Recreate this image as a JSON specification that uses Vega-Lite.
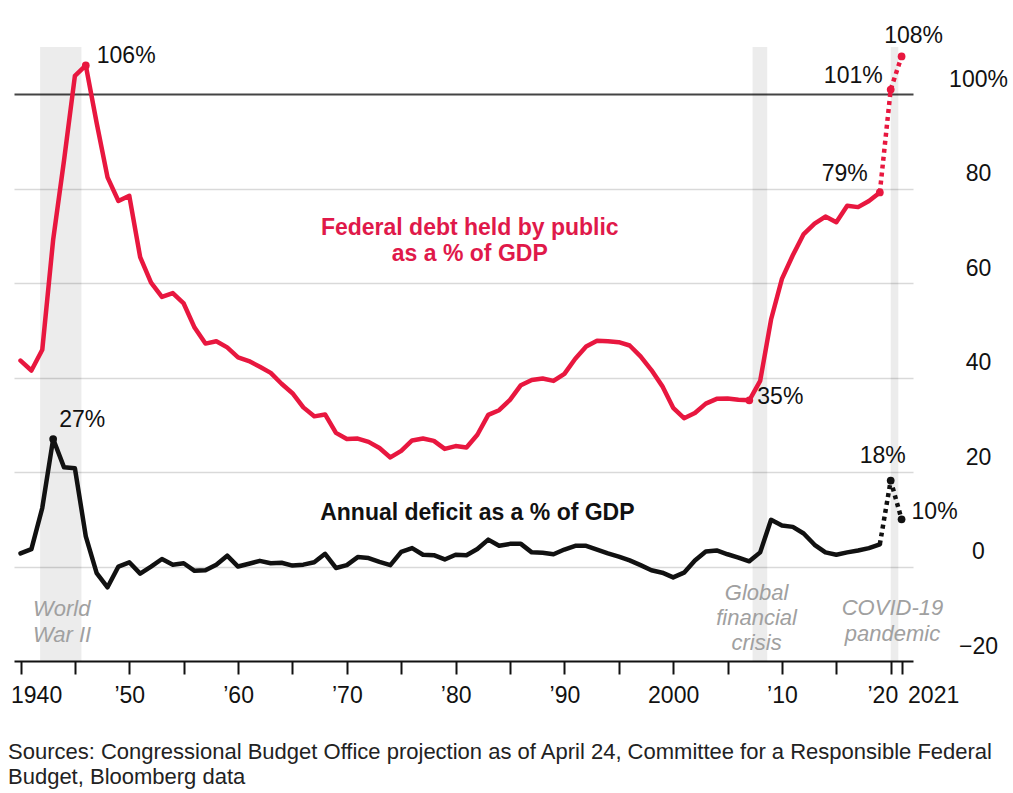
{
  "$schema": "https://vega.github.io/schema/vega-lite/v6.json",
  "width": 899,
  "height": 614,
  "autosize": {"type": "none"},
  "padding": {"left": 14, "top": 47, "right": 100, "bottom": 132},
  "background": "white",
  "config": {"view": {"stroke": null}, "font": "Liberation Sans"},
  "title": {
    "text": ["Sources: Congressional Budget Office projection as of April 24, Committee for a Responsible Federal", "Budget, Bloomberg data"],
    "orient": "bottom", "anchor": "start", "frame": "group",
    "font": "Liberation Sans", "fontSize": 22, "fontWeight": "normal", "color": "#222",
    "lineHeight": 25, "offset": 35, "dx": -6
  },
  "datasets": {
    "series": [
      {"year": 1940, "debt": 43.6, "deficit": 2.8},
      {"year": 1941, "debt": 41.5, "deficit": 3.7},
      {"year": 1942, "debt": 45.9, "deficit": 12.4},
      {"year": 1943, "debt": 69.2, "deficit": 27.0},
      {"year": 1944, "debt": 86.0, "deficit": 21.0},
      {"year": 1945, "debt": 103.9, "deficit": 20.8},
      {"year": 1946, "debt": 106.1, "deficit": 6.4},
      {"year": 1947, "debt": 93.9, "deficit": -1.4},
      {"year": 1948, "debt": 82.4, "deficit": -4.4},
      {"year": 1949, "debt": 77.4, "deficit": 0.0},
      {"year": 1950, "debt": 78.5, "deficit": 0.9},
      {"year": 1951, "debt": 65.5, "deficit": -1.5},
      {"year": 1952, "debt": 60.1, "deficit": 0.0},
      {"year": 1953, "debt": 57.1, "deficit": 1.6},
      {"year": 1954, "debt": 57.9, "deficit": 0.4},
      {"year": 1955, "debt": 55.7, "deficit": 0.7},
      {"year": 1956, "debt": 50.6, "deficit": -0.9},
      {"year": 1957, "debt": 47.2, "deficit": -0.8},
      {"year": 1958, "debt": 47.7, "deficit": 0.4},
      {"year": 1959, "debt": 46.4, "deficit": 2.3},
      {"year": 1960, "debt": 44.3, "deficit": 0.0},
      {"year": 1961, "debt": 43.5, "deficit": 0.6},
      {"year": 1962, "debt": 42.3, "deficit": 1.2},
      {"year": 1963, "debt": 41.0, "deficit": 0.7},
      {"year": 1964, "debt": 38.7, "deficit": 0.8},
      {"year": 1965, "debt": 36.7, "deficit": 0.2},
      {"year": 1966, "debt": 33.7, "deficit": 0.4},
      {"year": 1967, "debt": 31.8, "deficit": 0.9},
      {"year": 1968, "debt": 32.2, "deficit": 2.7},
      {"year": 1969, "debt": 28.3, "deficit": -0.3},
      {"year": 1970, "debt": 27.0, "deficit": 0.3},
      {"year": 1971, "debt": 27.1, "deficit": 2.0},
      {"year": 1972, "debt": 26.4, "deficit": 1.8},
      {"year": 1973, "debt": 25.1, "deficit": 1.0},
      {"year": 1974, "debt": 23.1, "deficit": 0.3},
      {"year": 1975, "debt": 24.5, "deficit": 3.1},
      {"year": 1976, "debt": 26.7, "deficit": 3.9},
      {"year": 1977, "debt": 27.1, "deficit": 2.5},
      {"year": 1978, "debt": 26.6, "deficit": 2.4},
      {"year": 1979, "debt": 24.9, "deficit": 1.5},
      {"year": 1980, "debt": 25.5, "deficit": 2.5},
      {"year": 1981, "debt": 25.2, "deficit": 2.4},
      {"year": 1982, "debt": 27.9, "deficit": 3.7},
      {"year": 1983, "debt": 32.1, "deficit": 5.7},
      {"year": 1984, "debt": 33.1, "deficit": 4.4},
      {"year": 1985, "debt": 35.3, "deficit": 4.8},
      {"year": 1986, "debt": 38.4, "deficit": 4.8},
      {"year": 1987, "debt": 39.5, "deficit": 3.0},
      {"year": 1988, "debt": 39.8, "deficit": 2.9},
      {"year": 1989, "debt": 39.3, "deficit": 2.6},
      {"year": 1990, "debt": 40.8, "deficit": 3.6},
      {"year": 1991, "debt": 44.0, "deficit": 4.4},
      {"year": 1992, "debt": 46.6, "deficit": 4.4},
      {"year": 1993, "debt": 47.8, "deficit": 3.6},
      {"year": 1994, "debt": 47.7, "deficit": 2.8},
      {"year": 1995, "debt": 47.5, "deficit": 2.1},
      {"year": 1996, "debt": 46.8, "deficit": 1.3},
      {"year": 1997, "debt": 44.5, "deficit": 0.3},
      {"year": 1998, "debt": 41.6, "deficit": -0.8},
      {"year": 1999, "debt": 38.2, "deficit": -1.3},
      {"year": 2000, "debt": 33.6, "deficit": -2.3},
      {"year": 2001, "debt": 31.4, "deficit": -1.3},
      {"year": 2002, "debt": 32.5, "deficit": 1.3},
      {"year": 2003, "debt": 34.5, "deficit": 3.2},
      {"year": 2004, "debt": 35.5, "deficit": 3.4},
      {"year": 2005, "debt": 35.6, "deficit": 2.6},
      {"year": 2006, "debt": 35.3, "deficit": 1.9},
      {"year": 2007, "debt": 35.2, "deficit": 1.1},
      {"year": 2008, "debt": 39.3, "deficit": 3.0},
      {"year": 2009, "debt": 52.3, "deficit": 9.9},
      {"year": 2010, "debt": 60.9, "deficit": 8.7},
      {"year": 2011, "debt": 65.9, "deficit": 8.4},
      {"year": 2012, "debt": 70.4, "deficit": 7.0},
      {"year": 2013, "debt": 72.6, "deficit": 4.6},
      {"year": 2014, "debt": 74.1, "deficit": 3.0},
      {"year": 2015, "debt": 72.9, "deficit": 2.5},
      {"year": 2016, "debt": 76.4, "deficit": 3.0},
      {"year": 2017, "debt": 76.1, "deficit": 3.4},
      {"year": 2018, "debt": 77.4, "deficit": 3.9},
      {"year": 2019, "debt": 79.2, "deficit": 4.7},
      {"year": 2020, "debt": 101.0, "deficit": 18.2},
      {"year": 2021, "debt": 108.0, "deficit": 10.0}
    ],
    "shades": [
      {"event": "World War II", "start": 1941.8, "end": 1945.6},
      {"event": "Global financial crisis", "start": 2007.3, "end": 2008.65},
      {"event": "COVID-19 pandemic", "start": 2020.0, "end": 2020.7}
    ]
  },
  "layer": [
    {
      "data": {"name": "shades"},
      "mark": {"type": "rect", "color": "#000", "opacity": 0.075},
      "encoding": {
        "x": {"field": "start", "type": "quantitative", "title": null},
        "x2": {"field": "end"}
      }
    },
    {
      "data": {"name": "series"},
      "transform": [{"filter": "datum.year <= 2019"}],
      "mark": {"type": "line", "color": "#e8173f", "strokeWidth": 4.5, "strokeJoin": "round", "strokeCap": "round"},
      "encoding": {
        "x": {
          "field": "year", "type": "quantitative", "title": null,
          "scale": {"domain": [1939.4, 2022.05], "nice": false, "zero": false},
          "axis": {
            "title": null,
            "values": [1940, 1945, 1950, 1955, 1960, 1965, 1970, 1975, 1980, 1985, 1990, 1995, 2000, 2005, 2010, 2015, 2020, 2021],
            "grid": false, "domain": true, "domainColor": "#111", "domainWidth": 2,
            "ticks": true, "tickColor": "#111", "tickWidth": 2, "tickSize": 13,
            "labelExpr": "(datum.value == 1940 || datum.value == 2000 || datum.value == 2021) ? ('' + datum.value) : (datum.value % 10 == 0 ? '\u2019' + substring('' + datum.value, 2, 4) : '')",
            "labelFont": "Liberation Sans", "labelFontSize": 23, "labelColor": "#111",
            "labelPadding": 10, "labelOverlap": false, "labelBound": false, "labelFlush": false,
            "labelBaseline": "top",
            "labelAlign": {"condition": [{"test": "datum.value == 1940 || datum.value == 2021", "value": "left"}, {"test": "datum.value == 2020", "value": "right"}], "value": "center"},
            "labelOffset": {"condition": [{"test": "datum.value == 1940", "value": -10}, {"test": "datum.value == 2021", "value": 6}, {"test": "datum.value == 2020", "value": 7}], "value": 0}
          }
        },
        "y": {
          "field": "debt", "type": "quantitative", "title": null,
          "scale": {"domain": [-20, 110], "nice": false, "zero": false},
          "axis": {
            "title": null, "orient": "right",
            "values": [-20, 0, 20, 40, 60, 80, 100],
            "domain": false, "ticks": false, "tickSize": 0,
            "grid": true,
            "gridColor": {"condition": [{"test": "datum.value == 100", "value": "#444"}, {"test": "datum.value == -20", "value": "transparent"}], "value": "#d9d9d9"},
            "gridWidth": {"condition": {"test": "datum.value == 100", "value": 2}, "value": 1.5},
            "labelExpr": "datum.value == 100 ? '100%' : datum.label",
            "labelFont": "Liberation Sans", "labelFontSize": 23, "labelColor": "#111",
            "labelAlign": "center", "labelBaseline": "alphabetic", "labelPadding": 65, "labelOffset": -8
          }
        }
      }
    },
    {
      "data": {"name": "series"},
      "transform": [{"filter": "datum.year >= 2019"}],
      "mark": {"type": "line", "color": "#e8173f", "strokeWidth": 4.5, "strokeDash": [4, 4], "strokeCap": "butt"},
      "encoding": {"x": {"field": "year", "type": "quantitative", "title": null}, "y": {"field": "debt", "type": "quantitative", "title": null}}
    },
    {
      "data": {"name": "series"},
      "transform": [{"filter": "datum.year <= 2019"}],
      "mark": {"type": "line", "color": "#111", "strokeWidth": 4.5, "strokeJoin": "round", "strokeCap": "round"},
      "encoding": {"x": {"field": "year", "type": "quantitative", "title": null}, "y": {"field": "deficit", "type": "quantitative", "title": null}}
    },
    {
      "data": {"name": "series"},
      "transform": [{"filter": "datum.year >= 2019"}],
      "mark": {"type": "line", "color": "#111", "strokeWidth": 4.5, "strokeDash": [4, 4], "strokeCap": "butt"},
      "encoding": {"x": {"field": "year", "type": "quantitative", "title": null}, "y": {"field": "deficit", "type": "quantitative", "title": null}}
    },
    {
      "data": {"name": "series"},
      "transform": [{"filter": "indexof([1946, 2007, 2019, 2020, 2021], datum.year) >= 0"}],
      "mark": {"type": "circle", "color": "#e8173f", "size": 60, "opacity": 1},
      "encoding": {"x": {"field": "year", "type": "quantitative", "title": null}, "y": {"field": "debt", "type": "quantitative", "title": null}}
    },
    {
      "data": {"name": "series"},
      "transform": [{"filter": "indexof([1943, 2020, 2021], datum.year) >= 0"}],
      "mark": {"type": "circle", "color": "#111", "size": 60, "opacity": 1},
      "encoding": {"x": {"field": "year", "type": "quantitative", "title": null}, "y": {"field": "deficit", "type": "quantitative", "title": null}}
    },
    {
      "data": {"name": "series"},
      "transform": [{"filter": "datum.year == 1946"}],
      "mark": {"type": "text", "text": "106%", "align": "left", "baseline": "alphabetic", "dx": 11, "dy": -2, "fontSize": 23, "color": "#111"},
      "encoding": {"x": {"field": "year", "type": "quantitative", "title": null}, "y": {"field": "debt", "type": "quantitative", "title": null}}
    },
    {
      "data": {"name": "series"},
      "transform": [{"filter": "datum.year == 2007"}],
      "mark": {"type": "text", "text": "35%", "align": "left", "baseline": "alphabetic", "dx": 8, "dy": 4, "fontSize": 23, "color": "#111"},
      "encoding": {"x": {"field": "year", "type": "quantitative", "title": null}, "y": {"field": "debt", "type": "quantitative", "title": null}}
    },
    {
      "data": {"name": "series"},
      "transform": [{"filter": "datum.year == 2019"}],
      "mark": {"type": "text", "text": "79%", "align": "right", "baseline": "alphabetic", "dx": -12, "dy": -11, "fontSize": 23, "color": "#111"},
      "encoding": {"x": {"field": "year", "type": "quantitative", "title": null}, "y": {"field": "debt", "type": "quantitative", "title": null}}
    },
    {
      "data": {"name": "series"},
      "transform": [{"filter": "datum.year == 2020"}],
      "mark": {"type": "text", "text": "101%", "align": "right", "baseline": "alphabetic", "dx": -8, "dy": -7, "fontSize": 23, "color": "#111"},
      "encoding": {"x": {"field": "year", "type": "quantitative", "title": null}, "y": {"field": "debt", "type": "quantitative", "title": null}}
    },
    {
      "data": {"name": "series"},
      "transform": [{"filter": "datum.year == 2021"}],
      "mark": {"type": "text", "text": "108%", "align": "center", "baseline": "alphabetic", "dx": 12, "dy": -13, "fontSize": 23, "color": "#111"},
      "encoding": {"x": {"field": "year", "type": "quantitative", "title": null}, "y": {"field": "debt", "type": "quantitative", "title": null}}
    },
    {
      "data": {"name": "series"},
      "transform": [{"filter": "datum.year == 1943"}],
      "mark": {"type": "text", "text": "27%", "align": "left", "baseline": "alphabetic", "dx": 6, "dy": -12, "fontSize": 23, "color": "#111"},
      "encoding": {"x": {"field": "year", "type": "quantitative", "title": null}, "y": {"field": "deficit", "type": "quantitative", "title": null}}
    },
    {
      "data": {"name": "series"},
      "transform": [{"filter": "datum.year == 2020"}],
      "mark": {"type": "text", "text": "18%", "align": "center", "baseline": "alphabetic", "dx": -8, "dy": -18, "fontSize": 23, "color": "#111"},
      "encoding": {"x": {"field": "year", "type": "quantitative", "title": null}, "y": {"field": "deficit", "type": "quantitative", "title": null}}
    },
    {
      "data": {"name": "series"},
      "transform": [{"filter": "datum.year == 2021"}],
      "mark": {"type": "text", "text": "10%", "align": "left", "baseline": "alphabetic", "dx": 10, "dy": 0, "fontSize": 23, "color": "#111"},
      "encoding": {"x": {"field": "year", "type": "quantitative", "title": null}, "y": {"field": "deficit", "type": "quantitative", "title": null}}
    },
    {
      "data": {"values": [{}]},
      "mark": {"type": "text", "text": ["Federal debt held by public", "as a % of GDP"], "align": "center", "baseline": "alphabetic", "lineHeight": 26, "fontSize": 23, "fontWeight": "bold", "color": "#e0194a"},
      "encoding": {"x": {"datum": 1981.3, "type": "quantitative"}, "y": {"datum": 70.3, "type": "quantitative"}}
    },
    {
      "data": {"values": [{}]},
      "mark": {"type": "text", "text": "Annual deficit as a % of GDP", "align": "center", "baseline": "alphabetic", "fontSize": 23, "fontWeight": "bold", "color": "#111"},
      "encoding": {"x": {"datum": 1982.0, "type": "quantitative"}, "y": {"datum": 9.9, "type": "quantitative"}}
    },
    {
      "data": {"values": [{}]},
      "mark": {"type": "text", "text": ["World", "War II"], "align": "left", "baseline": "alphabetic", "lineHeight": 26, "fontSize": 22, "fontStyle": "italic", "color": "#a0a0a0"},
      "encoding": {"x": {"datum": 1941.14, "type": "quantitative"}, "y": {"datum": -10.4, "type": "quantitative"}}
    },
    {
      "data": {"values": [{}]},
      "mark": {"type": "text", "text": ["Global", "financial", "crisis"], "align": "center", "baseline": "alphabetic", "lineHeight": 25, "fontSize": 22, "fontStyle": "italic", "color": "#a0a0a0"},
      "encoding": {"x": {"datum": 2007.67, "type": "quantitative"}, "y": {"datum": -7.05, "type": "quantitative"}}
    },
    {
      "data": {"values": [{}]},
      "mark": {"type": "text", "text": ["COVID-19", "pandemic"], "align": "center", "baseline": "alphabetic", "lineHeight": 26, "fontSize": 22, "fontStyle": "italic", "color": "#a0a0a0"},
      "encoding": {"x": {"datum": 2020.16, "type": "quantitative"}, "y": {"datum": -10.2, "type": "quantitative"}}
    }
  ]
}
